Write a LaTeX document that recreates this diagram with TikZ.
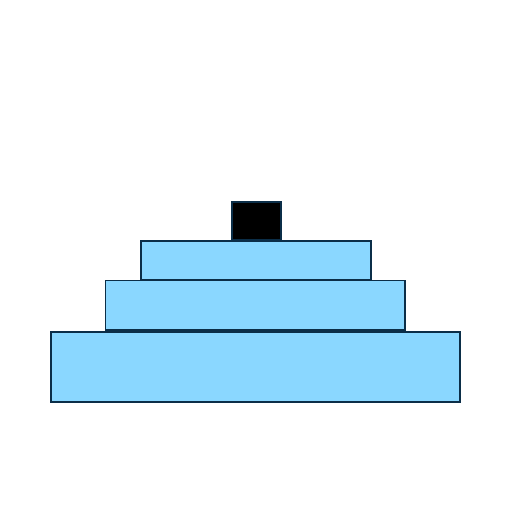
\documentclass[tikz,border=0pt]{standalone}
\usepackage{tikz}
\definecolor{skyfill}{HTML}{8AD7FF}
\definecolor{navyline}{HTML}{0B2E48}
\begin{document}
\begin{tikzpicture}[x=1pt,y=-1pt,
  tier/.style={draw=navyline,fill=skyfill,line width=1.4pt},
  topblock/.style={draw=navyline,fill=black,line width=1.4pt}]
\useasboundingbox (0,0) rectangle (512,512);
\fill[white] (0,0) rectangle (512,512);
\draw[tier] (51,332) rectangle (460,402);
\draw[tier] (105.5,280.5) rectangle (405,330);
\draw[tier] (141,241) rectangle (371,279.5);
\draw[topblock] (232,202) rectangle (281,240);
\end{tikzpicture}
\end{document}
